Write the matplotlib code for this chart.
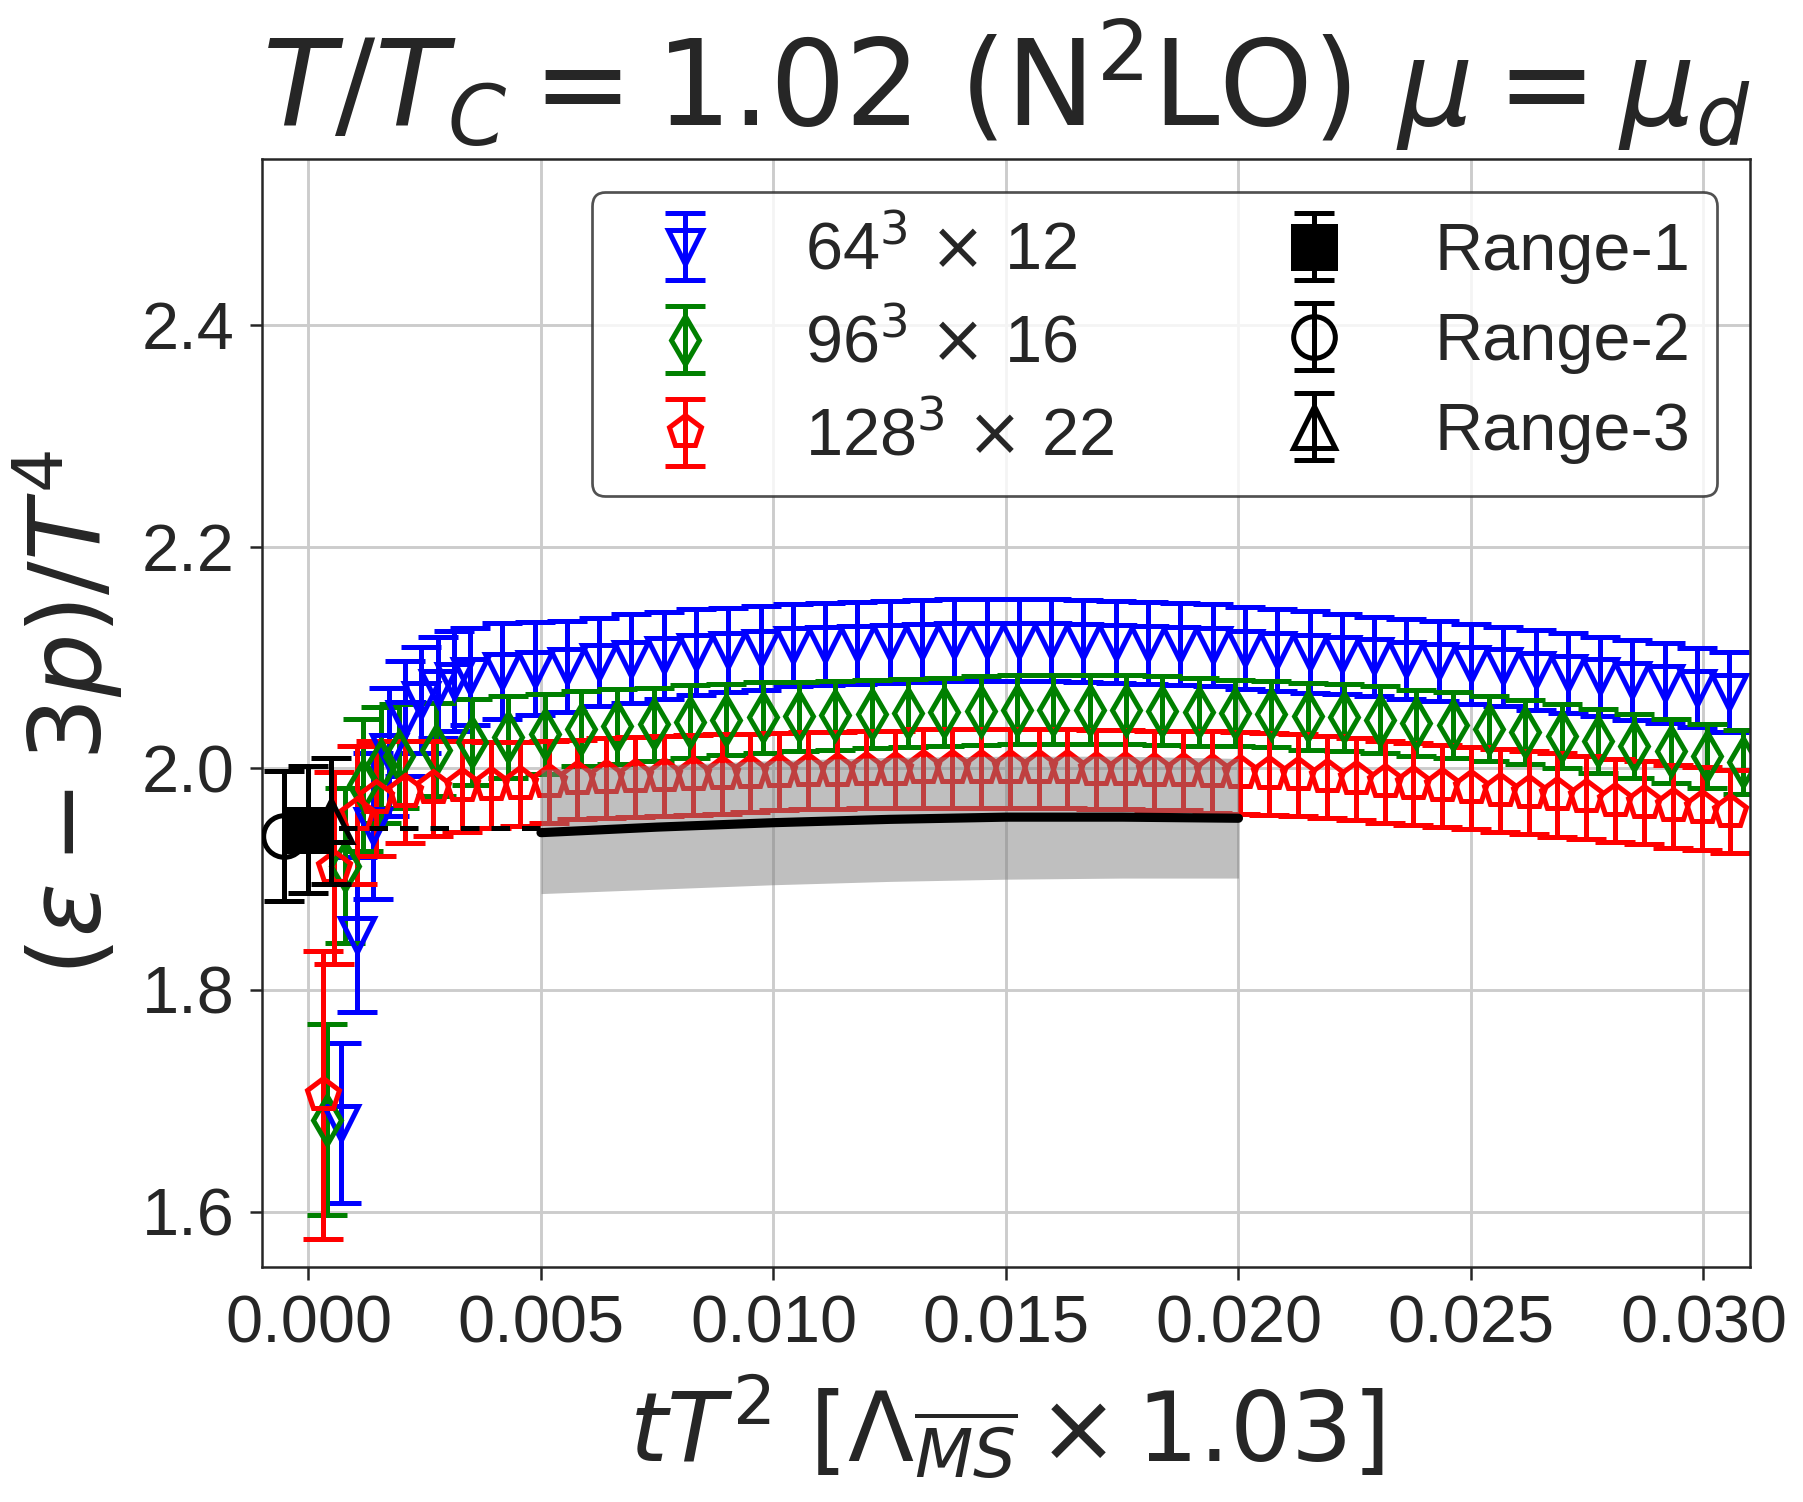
import matplotlib
matplotlib.use('Agg')
import matplotlib.pyplot as plt
import numpy as np

# flow time t in lattice units; tT^2 = t / Nt^2
nt_64, nt_96, nt_128 = 12, 16, 22

t_64 = [0.1, 0.15, 0.2, 0.25, 0.3, 0.35, 0.4, 0.45, 0.5, 0.6, 0.7,
        0.8, 0.9, 1.0, 1.1, 1.2, 1.3, 1.4, 1.5, 1.6, 1.7, 1.8, 1.9, 2.0,
        2.1, 2.2, 2.3, 2.4, 2.5, 2.6, 2.7, 2.8, 2.9, 3.0, 3.1, 3.2, 3.3,
        3.4, 3.5, 3.6, 3.7, 3.8, 3.9, 4.0, 4.1, 4.2, 4.3, 4.4]
y_64 = [1.680, 1.850, 1.948, 2.015, 2.045, 2.062, 2.073, 2.079, 2.083, 2.088, 2.090,
        2.092, 2.096, 2.099, 2.102, 2.105, 2.107, 2.109, 2.111, 2.112, 2.113, 2.114,
        2.115, 2.116, 2.116, 2.116, 2.116, 2.115, 2.114, 2.113, 2.112, 2.111, 2.109,
        2.107, 2.105, 2.103, 2.101, 2.099, 2.097, 2.094, 2.092, 2.089, 2.086, 2.083,
        2.080, 2.077, 2.073, 2.069]
e_64 = [0.072, 0.070, 0.066, 0.058, 0.052, 0.048, 0.046, 0.045, 0.044, 0.043, 0.042,
        0.041, 0.040, 0.040, 0.039, 0.039, 0.038, 0.038, 0.037, 0.037, 0.037, 0.037,
        0.037, 0.037, 0.037, 0.037, 0.037, 0.037, 0.037, 0.037, 0.037, 0.037, 0.037,
        0.037, 0.037, 0.036, 0.036, 0.036, 0.036, 0.036, 0.036, 0.036, 0.036, 0.036,
        0.036, 0.036, 0.036, 0.036]

t_96 = [0.1, 0.2, 0.3, 0.4, 0.5, 0.7, 0.9, 1.1, 1.3, 1.5, 1.7, 1.9, 2.1, 2.3,
        2.5, 2.7, 2.9, 3.1, 3.3, 3.5, 3.7, 3.9, 4.1, 4.3, 4.5, 4.7, 4.9, 5.1,
        5.3, 5.5, 5.7, 5.9, 6.1, 6.3, 6.5, 6.7, 6.9, 7.1, 7.3, 7.5, 7.7, 7.9]
y_96 = [1.683, 1.912, 1.985, 2.003, 2.011, 2.017, 2.024, 2.028, 2.031, 2.036,
        2.038, 2.040, 2.042, 2.044, 2.046, 2.047, 2.048, 2.049, 2.050, 2.051,
        2.052, 2.053, 2.053, 2.053, 2.053, 2.052, 2.051, 2.050, 2.049, 2.047,
        2.046, 2.044, 2.041, 2.039, 2.036, 2.033, 2.029, 2.025, 2.020, 2.016,
        2.011, 2.006]
e_96 = [0.086, 0.070, 0.060, 0.052, 0.047, 0.042, 0.039, 0.037, 0.036, 0.034,
        0.034, 0.033, 0.033, 0.032, 0.032, 0.031, 0.031, 0.031, 0.031, 0.031,
        0.031, 0.031, 0.031, 0.031, 0.031, 0.031, 0.031, 0.030, 0.030, 0.030,
        0.030, 0.030, 0.030, 0.030, 0.029, 0.029, 0.029, 0.029, 0.029, 0.029,
        0.029, 0.029]

t_128 = [0.15, 0.27, 0.5, 0.7, 1.0, 1.3, 1.6, 1.9, 2.2, 2.5, 2.8, 3.1, 3.4,
         3.7, 4.0, 4.3, 4.6, 4.9, 5.2, 5.5, 5.8, 6.1, 6.4, 6.7, 7.0, 7.3, 7.6,
         7.9, 8.2, 8.5, 8.8, 9.1, 9.4, 9.7, 10.0, 10.3, 10.6, 10.9, 11.2, 11.5,
         11.8, 12.1, 12.4, 12.7, 13.0, 13.3, 13.6, 13.9, 14.2, 14.5, 14.8]
y_128 = [1.705, 1.910, 1.958, 1.973, 1.979, 1.982, 1.984, 1.985, 1.986, 1.988,
         1.990, 1.991, 1.992, 1.993, 1.994, 1.995, 1.996, 1.997, 1.998, 1.998,
         1.999, 1.999, 2.000, 2.000, 2.000, 2.000, 2.000, 2.000, 1.999, 1.999,
         1.998, 1.998, 1.997, 1.996, 1.995, 1.994, 1.992, 1.990, 1.988, 1.986,
         1.984, 1.982, 1.980, 1.978, 1.976, 1.974, 1.971, 1.969, 1.966, 1.964,
         1.961]
e_128 = [0.130, 0.087, 0.062, 0.052, 0.046, 0.043, 0.041, 0.039, 0.038, 0.037,
         0.036, 0.036, 0.036, 0.036, 0.036, 0.036, 0.035, 0.035, 0.035, 0.035,
         0.035, 0.035, 0.036, 0.036, 0.036, 0.036, 0.036, 0.036, 0.036, 0.036,
         0.036, 0.036, 0.037, 0.037, 0.037, 0.037, 0.037, 0.037, 0.037, 0.037,
         0.037, 0.037, 0.0375, 0.0375, 0.0375, 0.0375, 0.0375, 0.0375, 0.0375,
         0.0375, 0.0375]

# continuum extrapolations (plotted slightly shifted around tT^2 = 0)
range_x = [0.0, -0.00053, 0.00048]
range_y = [1.9446, 1.9387, 1.9525]
range_e = [0.0573, 0.0588, 0.0565]

# flow-time extrapolation band
fit_x = [0.005, 0.0075, 0.010, 0.0125, 0.015, 0.0175, 0.020]
fit_y = [1.942, 1.947, 1.951, 1.954, 1.956, 1.956, 1.955]
fit_lo = [1.887, 1.891, 1.895, 1.898, 1.900, 1.901, 1.901]
fit_hi = [1.999, 2.003, 2.007, 2.010, 2.011, 2.011, 2.009]
dash_x = [0.0, 0.005]
dash_y = [1.9465, 1.9465]

dark = '#262626'
plt.rcParams['font.family'] = ['Liberation Sans', 'DejaVu Sans']
plt.rcParams['mathtext.fontset'] = 'dejavusans'
plt.rcParams['text.color'] = dark
plt.rcParams['axes.labelcolor'] = dark
plt.rcParams['xtick.color'] = dark
plt.rcParams['ytick.color'] = dark

fig, ax = plt.subplots(figsize=(1803 / 300, 1502 / 300), dpi=300)
fig.subplots_adjust(left=0.1453, right=0.9706, top=0.8941, bottom=0.1565)

style = dict(linestyle='none', mfc='none', ms=8, mew=1.2, elinewidth=1.2,
             capsize=4.8, capthick=1.2)
series = [(t_64, y_64, e_64, nt_64, 'b', 'v', r'64$^3$ $\times$ 12'),
          (t_96, y_96, e_96, nt_96, 'g', 'd', r'96$^3$ $\times$ 16'),
          (t_128, y_128, e_128, nt_128, 'r', 'p', r'128$^3$ $\times$ 22')]
handles = []
for t, y, e, nt, c, m, lab in series:
    x = np.array(t) / nt**2
    h = ax.errorbar(x, y, yerr=e, color=c, marker=m, mec=c, label=lab, **style)
    handles.append(h)

bstyle = dict(linestyle='none', color='k', ms=10, mew=1.2, elinewidth=1.2,
              capsize=4.8, capthick=1.2)
labels_r = ['Range-1', 'Range-2', 'Range-3']
marks_r = ['s', 'o', '^']
for i in range(3):
    mfc = 'k' if i == 0 else 'none'
    h = ax.errorbar([range_x[i]], [range_y[i]], yerr=[range_e[i]], marker=marks_r[i],
                    mfc=mfc, mec='k', label=labels_r[i], zorder=3, **bstyle)
    handles.append(h)

ax.fill_between(fit_x, fit_lo, fit_hi, color='gray', alpha=0.5, lw=0, zorder=3)
ax.plot(fit_x, fit_y, color='k', lw=2.2, solid_capstyle='round', zorder=4)
ax.plot(dash_x, dash_y, color='k', lw=1.2, linestyle=(0, (3.7, 2.4)), zorder=4)

ax.set_xlim(-0.001, 0.031)
ax.set_ylim(1.55, 2.55)
ax.set_xticks([0.0, 0.005, 0.010, 0.015, 0.020, 0.025, 0.030])
ax.set_xticklabels(['0.000', '0.005', '0.010', '0.015', '0.020', '0.025', '0.030'])
ax.set_yticks([1.6, 1.8, 2.0, 2.2, 2.4])
ax.set_yticklabels(['1.6', '1.8', '2.0', '2.2', '2.4'])
ax.tick_params(labelsize=16, length=3, width=0.6, direction='out')
ax.grid(True, color='#cccccc', lw=0.7)
ax.set_axisbelow(True)
for s in ax.spines.values():
    s.set_color(dark)
    s.set_linewidth(0.6)

ax.set_title(r'$T/T_C = 1.02\ (\mathrm{N^2LO})\ \mu = \mu_d$', fontsize=28.6, pad=8)
ax.set_xlabel(r'$tT^2\ [\Lambda_{\overline{MS}} \times 1.03]$', fontsize=23.2)
ax.set_ylabel(r'$(\varepsilon - 3p)/T^4$', fontsize=24)

leg = ax.legend(handles=handles, ncol=2, loc='upper right', fontsize=16,
                borderaxespad=0.5, labelspacing=0.42, framealpha=0.8)
leg.get_frame().set_edgecolor(dark)
leg.get_frame().set_linewidth(0.65)

fig.savefig('out.png', dpi=300)
